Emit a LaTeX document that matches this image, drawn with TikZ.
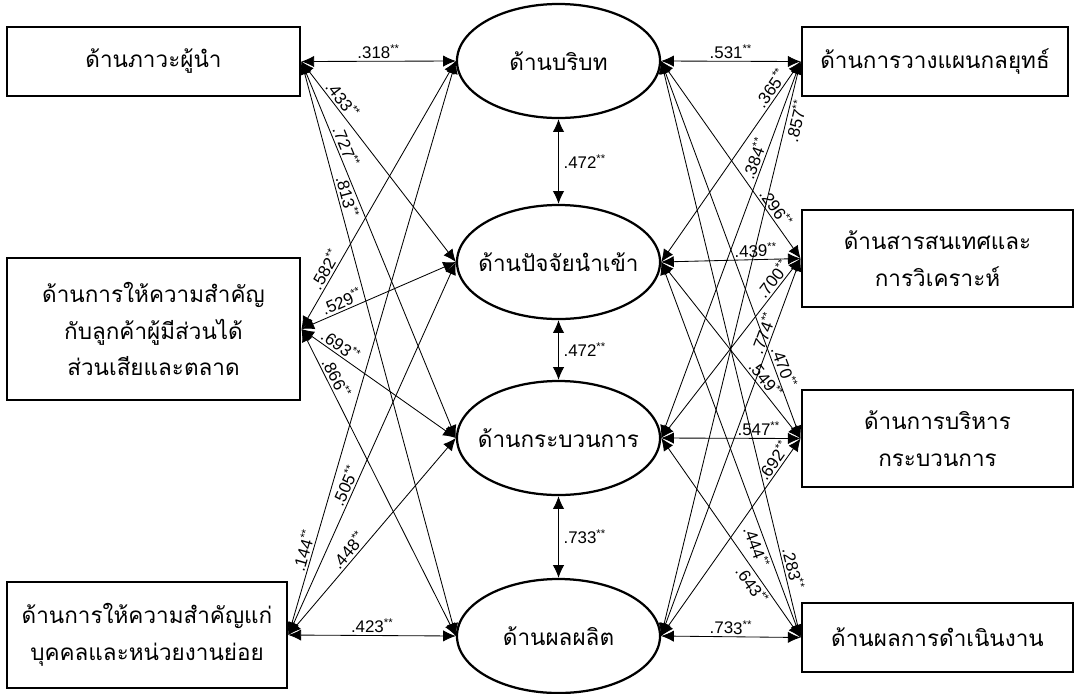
\documentclass[tikz,border=0pt]{standalone}
\usepackage{fontspec}
\setmainfont[Script=Thai]{Loma}
\newfontfamily\numfont{Liberation Sans}
\usetikzlibrary{arrows.meta, shapes.geometric}

\newcommand{\boxfont}{\fontsize{16}{26}\selectfont}
\newcommand{\coeffont}{\numfont\fontsize{12}{14}\selectfont}
\newcommand{\cf}[1]{.#1\textsuperscript{**}}
\newcommand{\nowidth}[1]{\makebox[0pt]{#1}}

\begin{document}
\begin{tikzpicture}[x = 0.025cm, y = -0.025cm,
    factor/.style = {draw, line width = 2pt, rectangle, align = center, font = \boxfont, inner sep = 2pt, minimum height = 1.725cm},
    latent/.style = {draw, line width = 1.6pt, ellipse, font = \boxfont, minimum width = 5.075cm, minimum height = 2.85cm, inner sep = 0pt},
    link/.style = {<->, line width = 0.6pt},
    coef/.style = {font = \coeffont, sloped, inner sep = 1.5pt},
    > = {Latex[length = 9pt, width = 8pt]}]

      \useasboundingbox (0, 0) rectangle (1076, 693);

      % left boxes
      \node[factor, minimum width = 7.325cm] (lead) at (153.5, 61.5) {ด้านภาวะผู้นำ};
      \node[factor, minimum width = 7.325cm, minimum height = 3.55cm] (cust) at (153.5, 329) {ด้านการให้ความสำคัญ\\กับลูกค้าผู้มีส่วนได้\\ส่วนเสียและตลาด};
      \node[factor, minimum width = 7cm, minimum height = 2.65cm] (staff) at (147, 635) {ด้านการให้ความสำคัญแก่\\บุคคลและหน่วยงานย่อย};

      % center ellipses
      \node[latent] (ctx) at (558.5, 61) {\nowidth{ด้านบริบท}};
      \node[latent] (inp) at (558.5, 262) {\nowidth{ด้านปัจจัยนำเข้า}};
      \node[latent] (proc) at (558.5, 438) {\nowidth{ด้านกระบวนการ}};
      \node[latent] (outp) at (558.5, 636) {\nowidth{ด้านผลผลิต}};

      % right boxes
      \node[factor, minimum width = 6.65cm] (plan) at (935, 61.5) {ด้านการวางแผนกลยุทธ์};
      \node[factor, minimum width = 6.775cm, minimum height = 2.425cm] (info) at (937.5, 258.5) {ด้านสารสนเทศและ\\การวิเคราะห์};
      \node[factor, minimum width = 6.775cm, minimum height = 2.425cm] (mgmt) at (937.5, 438.5) {ด้านการบริหาร\\กระบวนการ};
      \node[factor, minimum width = 6.775cm] (perf) at (937.5, 637.5) {ด้านผลการดำเนินงาน};

      % left to center
      \draw[link] (lead.east) -- (ctx.west) node[coef, above, pos = 0.5] {\cf{318}};
      \draw[link] (lead.east) -- (inp.west) node[coef, above, pos = 0.22] {\cf{433}};
      \draw[link] (lead.east) -- (proc.west) node[coef, above, pos = 0.235] {\cf{727}};
      \draw[link] (lead.east) -- (outp.west) node[coef, above, pos = 0.24] {\cf{813}};

      \draw[link] (cust.east) -- (ctx.west) node[coef, above, pos = 0.205] {\cf{582}};
      \draw[link] (cust.east) -- (inp.west) node[coef, above, pos = 0.285] {\cf{529}};
      \draw[link] (cust.east) -- (proc.west) node[coef, above, pos = 0.22] {\cf{693}};
      \draw[link] (cust.east) -- (outp.west) node[coef, above, pos = 0.174] {\cf{866}};

      \draw[link] (staff.east) -- (ctx.west) node[coef, above, pos = 0.143] {\cf{144}};
      \draw[link] (staff.east) -- (inp.west) node[coef, above, pos = 0.39] {\cf{505}};
      \draw[link] (staff.east) -- (proc.west) node[coef, above, pos = 0.4] {\cf{448}};
      \draw[link] (staff.east) -- (outp.west) node[coef, above, pos = 0.5] {\cf{423}};

      % center column
      \draw[link] (ctx.south) -- (inp.north) node[font = \coeffont, right, midway] {\cf{472}};
      \draw[link] (inp.south) -- (proc.north) node[font = \coeffont, right, midway] {\cf{472}};
      \draw[link] (proc.south) -- (outp.north) node[font = \coeffont, right, midway] {\cf{733}};

      % center to right
      \draw[link] (ctx.east) -- (plan.west) node[coef, above, pos = 0.5] {\cf{531}};
      \draw[link] (inp.east) -- (plan.west) node[coef, above, pos = 0.84] {\cf{365}};
      \draw[link] (proc.east) -- (plan.west) node[coef, above, pos = 0.733] {\cf{384}};
      \draw[link] (outp.east) -- (plan.west) node[coef, below, pos = 0.9] {\cf{857}};

      \draw[link] (ctx.east) -- (info.west) node[coef, above, pos = 0.77] {\cf{296}};
      \draw[link] (inp.east) -- (info.west) node[coef, above, pos = 0.68] {\cf{439}};
      \draw[link] (proc.east) -- (info.west) node[coef, above, pos = 0.854] {\cf{700}};
      \draw[link] (outp.east) -- (info.west) node[coef, above, pos = 0.794] {\cf{774}};

      \draw[link] (ctx.east) -- (mgmt.west) node[coef, above, pos = 0.82] {\cf{470}};
      \draw[link] (inp.east) -- (mgmt.west) node[coef, above, pos = 0.7] {\cf{549}};
      \draw[link] (proc.east) -- (mgmt.west) node[coef, above, pos = 0.7] {\cf{547}};
      \draw[link] (outp.east) -- (mgmt.west) node[coef, above, pos = 0.86] {\cf{692}};

      \draw[link] (ctx.east) -- (perf.west) node[coef, above, pos = 0.884] {\cf{283}};
      \draw[link] (inp.east) -- (perf.west) node[coef, below, pos = 0.75] {\cf{444}};
      \draw[link] (proc.east) -- (perf.west) node[coef, below, pos = 0.71] {\cf{643}};
      \draw[link] (outp.east) -- (perf.west) node[coef, above, pos = 0.5] {\cf{733}};

    \end{tikzpicture}
\end{document}
